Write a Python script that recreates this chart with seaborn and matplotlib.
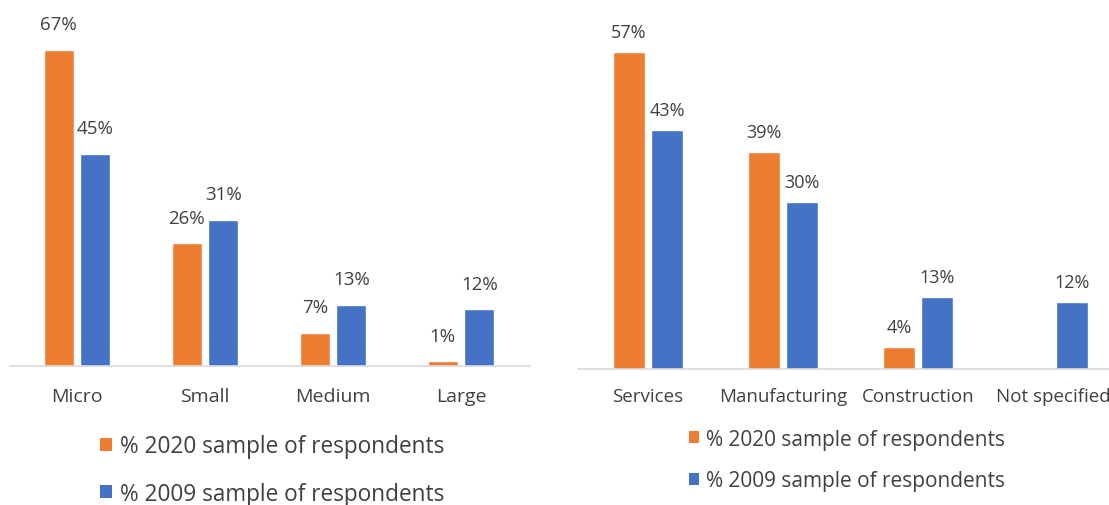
import matplotlib
matplotlib.use("Agg")
import matplotlib.pyplot as plt
from matplotlib.patches import Patch
import seaborn as sns
import pandas as pd

# Firm size breakdown
size_categories = ["Micro", "Small", "Medium", "Large"]
size_2020 = [67, 26, 7, 1]
size_2009 = [45, 31, 13, 12]

# Sector breakdown
sector_categories = ["Services", "Manufacturing", "Construction", "Not specified"]
sector_2020 = [57, 39, 4, None]
sector_2009 = [43, 30, 13, 12]

series_names = ["% 2020 sample of respondents", "% 2009 sample of respondents"]
colors = ["#ED7D31", "#4472C4"]

sns.set_theme(style="white")
plt.rcParams["font.family"] = ["Open Sans", "DejaVu Sans"]
text_color = "#404040"

W, H = 1109, 506
fig = plt.figure(figsize=(W / 100, H / 100), dpi=100)


def px_axes(left, top, right, bottom):
    return fig.add_axes([left / W, 1 - bottom / H, (right - left) / W, (bottom - top) / H])


def long_frame(cats, a, b):
    rows = []
    for c, v in zip(cats, a):
        rows.append({"cat": c, "series": series_names[0], "value": v})
    for c, v in zip(cats, b):
        rows.append({"cat": c, "series": series_names[1], "value": v})
    return pd.DataFrame(rows)


def draw_panel(ax, cats, a, b, ymax, xlim, fs, tfs, pad, label_off):
    df = long_frame(cats, a, b).dropna()
    sns.barplot(data=df, x="cat", y="value", hue="series", order=cats,
                hue_order=series_names, palette=colors, width=0.57, gap=0.18,
                saturation=1, legend=False, ax=ax)
    for cont in ax.containers:
        for bar in cont:
            h = bar.get_height()
            if h is None or h != h:
                continue
            ax.annotate(f"{h:.0f}%", (bar.get_x() + bar.get_width() / 2, h),
                        xytext=(0, label_off), textcoords="offset points",
                        ha="center", va="bottom", fontsize=fs, color=text_color)
    ax.set_ylim(0, ymax)
    ax.set_xlim(*xlim)
    ax.set_xlabel("")
    ax.set_ylabel("")
    ax.set_yticks([])
    for s in ["left", "right", "top"]:
        ax.spines[s].set_visible(False)
    ax.spines["bottom"].set_color("#D9D9D9")
    ax.spines["bottom"].set_linewidth(1.2)
    ax.tick_params(axis="x", length=0, pad=pad, labelsize=tfs, labelcolor=text_color)
    ax.set_facecolor("none")


# Left panel: baseline at y=367, spacing 128 px
axL = px_axes(10, 0, 530, 367)
draw_panel(axL, size_categories, size_2020, size_2009, 367 / 4.72,
           (-0.5 - (77 - 64 - 10) / 128, 3.5 + (530 - 525) / 128), 13.5, 14, 15, 12)

# Right panel: baseline at y=370, spacing 135 px
axR = px_axes(578, 0, 1109, 370)
x0 = -0.5 - (648 - 67.5 - 578) / 135
draw_panel(axR, sector_categories, sector_2020, sector_2009, 370 / 5.56,
           (x0, x0 + 531 / 135), 13, 13.5, 13, 8)

handles = [Patch(facecolor=c, edgecolor="none") for c in colors]
fig.legend(handles, series_names, loc="center left",
           bbox_to_anchor=(80 / W, 1 - 471 / H), frameon=False, fontsize=16.3,
           handlelength=0.5, handleheight=0.5, handletextpad=0.35,
           labelspacing=1.05, labelcolor=text_color)
fig.legend(handles, series_names, loc="center left",
           bbox_to_anchor=(670 / W, 1 - 461 / H), frameon=False, fontsize=15,
           handlelength=0.5, handleheight=0.5, handletextpad=0.35,
           labelspacing=0.98, labelcolor=text_color)

fig.savefig("out.png", dpi=100, facecolor="white")
